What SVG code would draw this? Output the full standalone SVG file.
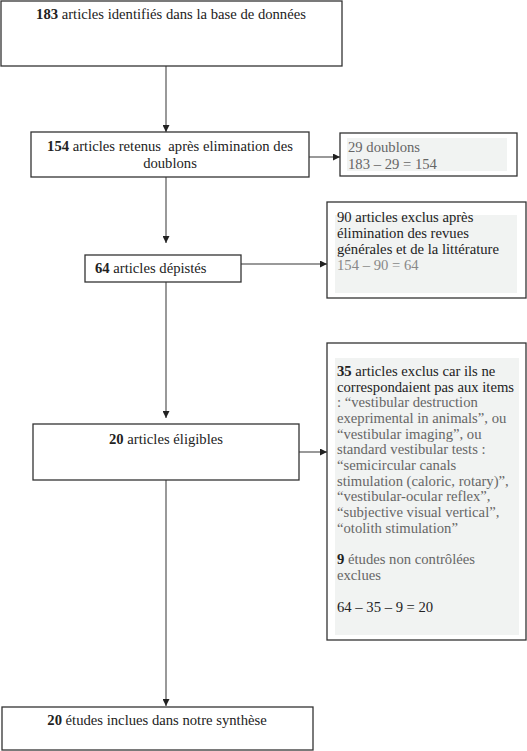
<svg xmlns="http://www.w3.org/2000/svg" width="527" height="751" viewBox="0 0 527 751">
<style>
.box{fill:#fff;stroke:#333;stroke-width:1.3}
.gbox{fill:#fff;stroke:#333;stroke-width:1.3}
.gfill{fill:#f1f3f2;stroke:none}
text{font-family:"Liberation Serif","Times New Roman",serif;font-size:14.67px;fill:#222}
.b{font-weight:bold}
.g{fill:#666}
.lg{fill:#888}
.c{text-anchor:middle}
.ln{stroke:#777;stroke-width:1.5;fill:none}
</style>
<defs>
<marker id="ah" viewBox="0 0 10 10" refX="10" refY="5" markerWidth="7" markerHeight="7" markerUnits="userSpaceOnUse" orient="auto">
<path d="M0,0 L10,5 L0,10 z" fill="#222"/>
</marker>
</defs>
<g id="connectors">
<line class="ln" x1="166" y1="66" x2="166" y2="132" marker-end="url(#ah)"/>
<line class="ln" x1="309" y1="157" x2="340" y2="157" marker-end="url(#ah)"/>
<line class="ln" x1="166" y1="177" x2="166" y2="243" marker-end="url(#ah)"/>
<line class="ln" x1="241" y1="264" x2="327" y2="264" marker-end="url(#ah)"/>
<line class="ln" x1="166" y1="282" x2="166" y2="418" marker-end="url(#ah)"/>
<line class="ln" x1="299" y1="452" x2="327" y2="452" marker-end="url(#ah)"/>
<line class="ln" x1="166" y1="480" x2="166" y2="706" marker-end="url(#ah)"/>
</g>
<g id="n1">
<rect class="box" x="1" y="1" width="341" height="65"/>
<text class="c" x="171" y="19"><tspan class="b">183</tspan> articles identifiés dans la base de données</text>
</g>
<g id="n2">
<rect class="box" x="31" y="132" width="278" height="45"/>
<text class="c" x="170" y="151"><tspan class="b">154</tspan> articles retenus&#160; après elimination des</text>
<text class="c" x="170" y="168">doublons</text>
</g>
<g id="n2b">
<rect class="gbox" x="340" y="133" width="177" height="43"/>
<rect class="gfill" x="347" y="138" width="160" height="33"/>
<text class="g" x="348" y="152">29 doublons</text>
<text class="g" x="348" y="169">183 – 29 = 154</text>
</g>
<g id="n3">
<rect class="box" x="85" y="255" width="156" height="27"/>
<text x="95" y="273"><tspan class="b">64</tspan> articles dépistés</text>
</g>
<g id="n3b">
<rect class="gbox" x="327" y="202" width="199" height="96"/>
<rect class="gfill" x="335" y="215" width="182" height="78"/>
<text x="337" y="222">90 articles exclus après</text>
<text x="337" y="238">élimination des revues</text>
<text x="337" y="254">générales et de la littérature</text>
<text class="lg" x="337" y="270">154 – 90 = 64</text>
</g>
<g id="n4">
<rect class="box" x="33" y="424" width="266" height="56"/>
<text class="c" x="166" y="444"><tspan class="b">20</tspan> articles éligibles</text>
</g>
<g id="n4b">
<rect class="gbox" x="327" y="343" width="199" height="297"/>
<rect class="gfill" x="335" y="358" width="184" height="277"/>
<text x="337" y="376"><tspan class="b">35</tspan> articles exclus car ils ne</text>
<text x="337" y="392">correspondaient pas aux items</text>
<text class="g" x="337" y="407">: “vestibular destruction</text>
<text class="g" x="337" y="423">exeprimental in animals”, ou</text>
<text class="g" x="337" y="439">“vestibular imaging”, ou</text>
<text class="g" x="337" y="454">standard vestibular tests :</text>
<text class="g" x="337" y="470">“semicircular canals</text>
<text class="g" x="337" y="486">stimulation (caloric, rotary)”,</text>
<text class="g" x="337" y="501">“vestibular-ocular reflex”,</text>
<text class="g" x="337" y="517">“subjective visual vertical”,</text>
<text class="g" x="337" y="533">“otolith stimulation”</text>
<text class="g" x="337" y="564"><tspan class="b" fill="#222">9</tspan> études non contrôlées</text>
<text class="g" x="337" y="580">exclues</text>
<text x="337" y="612">64 – 35 – 9 = 20</text>
</g>
<g id="n5">
<rect class="box" x="2" y="707" width="311" height="43"/>
<text class="c" x="157" y="725"><tspan class="b">20</tspan> études inclues dans notre synthèse</text>
</g>
</svg>
